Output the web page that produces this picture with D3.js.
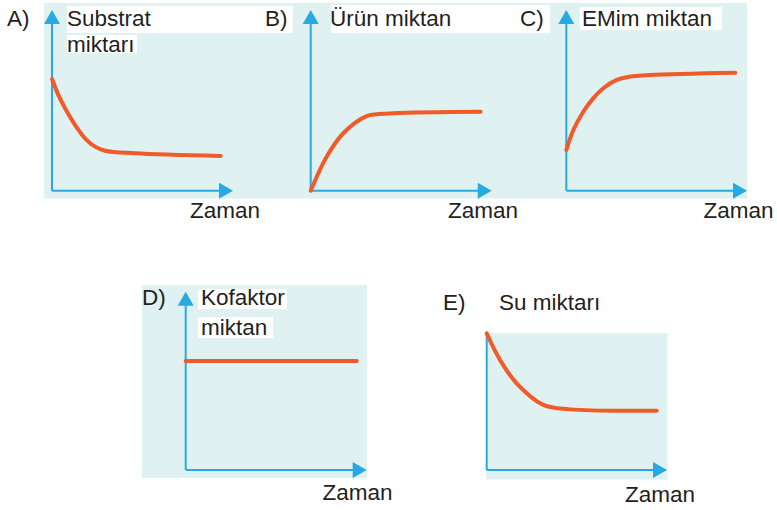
<!DOCTYPE html>
<meta charset="utf-8">
<style>
  body { margin:0; background:#fff; }
  text { font-family:"Liberation Sans", Arial, sans-serif; font-size:22.5px; fill:#231f20; }
</style>
<svg width="777" height="510"></svg>
<script src="https://d3js.org/d3.v7.min.js"></script>
<script>

// time points (0..10 units along the Zaman axis) and amounts (0..10 up the y axis)
var timeA = [0, 0.35, 0.72, 1.27, 1.82, 2.38, 2.93, 4.59, 9.32];
var substrat = [6.18, 5.3, 4.56, 3.64, 2.9, 2.44, 2.21, 2.07, 1.92];

var timeB = [0, 0.88, 1.8, 3.09, 4.57, 9.39];
var urun = [0, 1.88, 3.18, 4.13, 4.28, 4.37];

var timeC = [0, 0.39, 0.94, 1.49, 2.05, 2.79, 3.34, 4.63, 9.35];
var enzim = [2.25, 3.36, 4.37, 5.11, 5.67, 6.13, 6.28, 6.4, 6.53];

var timeD = [0, 9.45];
var kofaktor = [6.11, 6.11];

var timeE = [0, 0.74, 1.66, 3.14, 4.62, 9.43];
var su = [7.67, 6.17, 4.86, 3.65, 3.4, 3.33];

var letters = ["A)", "B)", "C)", "D)", "E)"];
var titles = [["Substrat", "miktarı"], ["Ürün miktan"], ["EMim miktan"], ["Kofaktor", "miktan"], ["Su miktarı"]];
var xLabel = "Zaman";

var blue = "#29a9e1", red = "#f15a29", teal = "#dff1f1";

var svg = d3.select("svg");

// backgrounds
svg.append("rect").attr("x", 44).attr("y", 3).attr("width", 703).attr("height", 195.5).attr("fill", teal);
svg.append("rect").attr("x", 142).attr("y", 285).attr("width", 225).attr("height", 193).attr("fill", teal);
svg.append("rect").attr("x", 486).attr("y", 333).attr("width", 181.5).attr("height", 146.5).attr("fill", teal);

// white boxes behind titles
var boxes = [
  [67, 6, 226, 27], [67, 35, 70, 18],
  [331, 5, 219, 28], [580, 7, 142, 23],
  [198, 289, 89, 20], [198, 317, 75, 21]
];
svg.selectAll("rect.box").data(boxes).enter().append("rect")
  .attr("class", "box")
  .attr("x", function(d) { return d[0]; })
  .attr("y", function(d) { return d[1]; })
  .attr("width", function(d) { return d[2]; })
  .attr("height", function(d) { return d[3]; })
  .attr("fill", "#fff");

var panels = [
  {t: timeA, v: substrat, ox: 52, oy: 190.7, xEnd: 233, yEnd: 10, axisTop: 10, arrow: true,
   lx: 7, ly: 25.5, tx: 67, ty: 25.5, dy: 26.5, zx: 190, zy: 218},
  {t: timeB, v: urun, ox: 310.7, oy: 190.7, xEnd: 491.7, yEnd: 10, axisTop: 10, arrow: true,
   lx: 265, ly: 25.5, tx: 330, ty: 25.5, dy: 26.5, zx: 448, zy: 218},
  {t: timeC, v: enzim, ox: 566.3, oy: 190.7, xEnd: 747, yEnd: 10, axisTop: 10, arrow: true,
   lx: 520, ly: 25.5, tx: 582, ty: 25.5, dy: 26.5, zx: 703.5, zy: 218},
  {t: timeD, v: kofaktor, ox: 185.7, oy: 470, xEnd: 366.7, yEnd: 291.7, axisTop: 291.7, arrow: true,
   lx: 142, ly: 305, tx: 201, ty: 305, dy: 30, zx: 322.5, zy: 500},
  {t: timeE, v: su, ox: 486.7, oy: 470, xEnd: 667, yEnd: 291.7, axisTop: 333, arrow: false,
   lx: 443, ly: 310, tx: 499, ty: 310, dy: 30, zx: 625, zy: 501.5}
];

panels.forEach(function(p, i) {
  var x = d3.scaleLinear().domain([0, 10]).range([p.ox, p.xEnd]);
  var y = d3.scaleLinear().domain([0, 10]).range([p.oy, p.yEnd]);
  var g = svg.append("g");

  // axes
  g.append("line")
    .attr("x1", x(0)).attr("y1", y(0))
    .attr("x2", x(10) - 13).attr("y2", y(0))
    .attr("stroke", blue).attr("stroke-width", 2);
  g.append("path")
    .attr("d", "M" + x(10) + "," + y(0) + "l-14,-8v16z")
    .attr("fill", blue);
  g.append("line")
    .attr("x1", x(0)).attr("y1", y(0))
    .attr("x2", x(0)).attr("y2", p.arrow ? p.axisTop + 13 : p.axisTop)
    .attr("stroke", blue).attr("stroke-width", 2);
  if (p.arrow) {
    g.append("path")
      .attr("d", "M" + x(0) + "," + p.axisTop + "l-8,14h16z")
      .attr("fill", blue);
  }

  // curve
  var pts = p.t.map(function(t, j) { return [t, p.v[j]]; });
  g.append("path")
    .datum(pts)
    .attr("fill", "none")
    .attr("stroke", red)
    .attr("stroke-width", 4)
    .attr("stroke-linecap", "round")
    .attr("d", d3.line()
      .x(function(d) { return x(d[0]); })
      .y(function(d) { return y(d[1]); })
      .curve(d3.curveCatmullRom.alpha(0.5)));

  // texts
  g.append("text").attr("x", p.lx).attr("y", p.ly).text(letters[i]);
  g.selectAll("text.title").data(titles[i]).enter().append("text")
    .attr("class", "title")
    .attr("x", p.tx)
    .attr("y", function(d, k) { return p.ty + k * p.dy; })
    .text(function(d) { return d; });
  g.append("text").attr("x", p.zx).attr("y", p.zy).text(xLabel);
});

</script>
